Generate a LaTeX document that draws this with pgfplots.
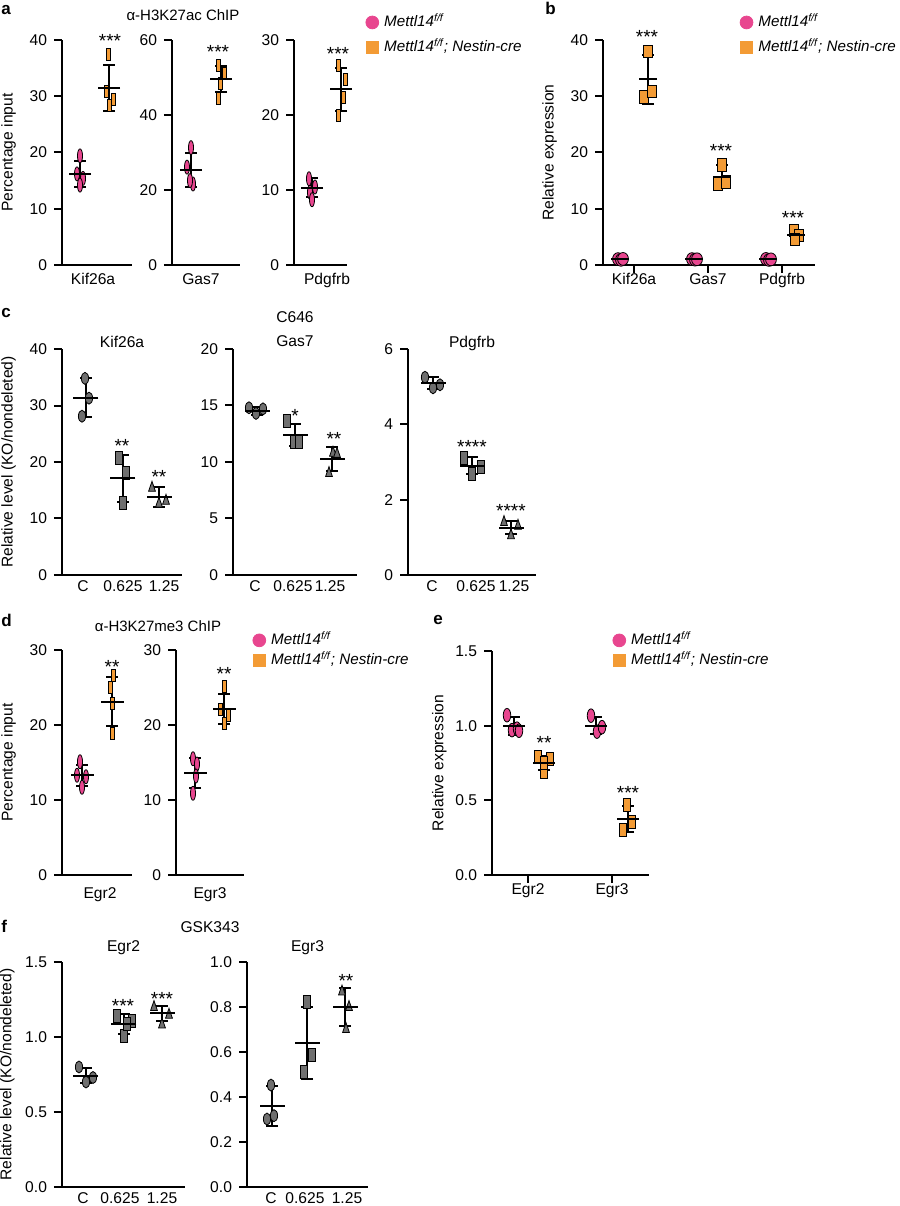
\documentclass[border=0pt]{standalone}
\usepackage{fontspec}
\setmainfont{Liberation Sans}
\usepackage{pgfplots}
\pgfplotsset{compat=1.18}

\definecolor{pk}{HTML}{E8468F}
\definecolor{or}{HTML}{F39B35}
\definecolor{gy}{HTML}{6F6F6F}

\newcommand\fsz{\fontsize{7.8pt}{9pt}\selectfont}
\newcommand\tsz{\fontsize{7.5pt}{9pt}\selectfont}
\newcommand\ssz{\fontsize{9.5pt}{10pt}\selectfont}
\newcommand\lsz{\fontsize{8.5pt}{10pt}\selectfont\bfseries}
\newcommand\lgf{\fontsize{7.6pt}{9pt}\selectfont\itshape}

\tikzset{star/.style={font=\ssz, inner sep=0pt, yshift=-2pt}}

\pgfplotsset{
  legend image code/.code={\draw[#1] plot coordinates {(0pt,0pt)};},
  pan/.style={
    scale only axis, anchor=south west, clip=false,
    axis x line*=bottom, axis y line*=left,
    axis line style={line width=1pt, -},
    tick style={line width=1pt, black},
    major tick length=4pt, tick align=outside,
    xmin=0, ymin=0,
    /pgf/number format/assume math mode=true,
    tick label style={font=\fsz},
    xticklabel style={inner sep=0pt},
    label style={font=\fsz},
    title style={font=\fsz, anchor=base, inner sep=0pt},
  },
  notick/.style={xtick style={draw=none}},
  dec/.style={yticklabel style={/pgf/number format/fixed, /pgf/number format/fixed zerofill, /pgf/number format/precision=1}},
  leg/.style={legend style={at={#1}, anchor=north west, draw=none, fill=none,
    inner xsep=0pt, inner ysep=0pt, font=\lgf, cells={anchor=west},
    nodes={inner sep=0pt, text height=6pt, text depth=1.5pt},
    column sep=2.75pt, row sep=5pt}},
  % a, d: narrow dashes
  dotA/.style={forget plot, only marks, mark=*, mark size=3.5pt, mark options={xscale=0.36, draw=none, fill=#1}},
  sqA/.style={forget plot, only marks, mark=square*, mark size=3pt, mark options={xscale=0.33, draw=none, fill=#1}},
  % b
  dotB/.style={forget plot, only marks, mark=*, mark size=3.2pt, mark options={xscale=0.85, draw=none, fill=#1}},
  sqB/.style={forget plot, only marks, mark=square*, mark size=3.1pt, mark options={xscale=0.75, draw=none, fill=#1}},
  % c, f
  dotC/.style={forget plot, only marks, mark=*, mark size=3pt, mark options={xscale=0.6, draw=none, fill=gy}},
  sqC/.style={forget plot, only marks, mark=square*, mark size=3.25pt, mark options={xscale=0.55, draw=none, fill=gy}},
  triC/.style={forget plot, only marks, mark=triangle*, mark size=3.3pt, mark options={xscale=0.6, draw=none, fill=gy}},
  % e
  dotE/.style={forget plot, only marks, mark=*, mark size=3.4pt, mark options={xscale=0.55, draw=none, fill=#1}},
  sqE/.style={forget plot, only marks, mark=square*, mark size=3.2pt, mark options={xscale=0.6, draw=none, fill=#1}},
  % mean +- SD
  mbar/.style={forget plot, only marks, mark=-, mark size=#1, color=black,
    mark options={line width=1pt},
    error bars/y dir=both, error bars/y explicit, error bars/error mark=|,
    error bars/error mark options={mark size=3pt, line width=1pt, black},
    error bars/error bar style={line width=1pt, black}},
}

\begin{document}
\begin{tikzpicture}
\useasboundingbox (0,0) rectangle (450pt,603pt);

% ---------------- a ----------------
\begin{axis}[pan, at={(31pt,470.5pt)}, width=35pt, height=112.5pt,
  xmax=70, ymax=40, ytick={0,10,20,30,40},
  xtick={31}, xticklabels={Kif26a}, notick,
  ylabel={Percentage input}, ylabel shift=0pt]
\addplot[dotA=pk] coordinates {(18,19.4) (15,16.2) (21,15.4) (18,14.2)};
\addplot[sqA=or] coordinates {(46,37.5) (44,30.9) (51,29.5) (47,28.3)};
\addplot[mbar=5.5pt] coordinates {(18,16.2) +- (0,2.3) (47,31.5) +- (0,4.1)};
\node[star] at (axis cs:48,40.5) {***};
\end{axis}

\begin{axis}[pan, at={(86pt,470.5pt)}, width=34pt, height=112.5pt,
  xmax=68, ymax=60, ytick={0,20,40,60},
  xtick={29}, xticklabels={Gas7}, notick]
\addplot[dotA=pk] coordinates {(19,31.3) (15,26.1) (21,21.6) (18,22.5)};
\addplot[sqA=or] coordinates {(46,53.3) (52,51.2) (48,48.3) (46,44.5)};
\addplot[mbar=5.5pt] coordinates {(19,25.3) +- (0,4.5) (49,49.6) +- (0,3.5)};
\node[star] at (axis cs:46,57.9) {***};
\end{axis}

\begin{axis}[pan, at={(147pt,470.5pt)}, width=26.5pt, height=112.5pt,
  xmax=53, ymax=30, ytick={0,10,20,30},
  xtick={33}, xticklabels={Pdgfrb}, notick, leg={(1.349,1.113)}]
\addlegendimage{only marks, mark=*, mark size=3.2pt, color=pk}
\addlegendentry{Mettl14\textsuperscript{f/f}}
\addlegendimage{only marks, mark=square*, mark size=3pt, color=or}
\addlegendentry{Mettl14\textsuperscript{f/f}; Nestin-cre}
\addplot[dotA=pk] coordinates {(15,11.5) (21,10.4) (16,9.7) (18,8.7)};
\addplot[sqA=or] coordinates {(44,26.6) (51,24.8) (49,22.4) (44,20.0)};
\addplot[mbar=5.5pt] coordinates {(18,10.3) +- (0,1.25) (47,23.4) +- (0,2.85)};
\node[star] at (axis cs:44,28.7) {***};
\end{axis}

% ---------------- b ----------------
\begin{axis}[pan, at={(301.5pt,470.5pt)}, width=106pt, height=112.5pt,
  xmax=212, ymax=40, ytick={0,10,20,30,40},
  xtick={31,105,179}, xticklabels={Kif26a,Gas7,Pdgfrb},
  ylabel={Relative expression}, ylabel shift=0pt, leg={(0.645,1.113)}]
\addlegendimage{only marks, mark=*, mark size=3.2pt, color=pk}
\addlegendentry{Mettl14\textsuperscript{f/f}}
\addlegendimage{only marks, mark=square*, mark size=3pt, color=or}
\addlegendentry{Mettl14\textsuperscript{f/f}; Nestin-cre}
\addplot[dotB=pk] coordinates {(15,1.05) (18,0.92) (20,1.08) (89,1.05) (92,0.95) (94,1.02) (163,1.08) (166,0.9) (168,1.0)};
\addplot[sqB=or] coordinates {(45,38.0) (41,29.9) (49,30.9) (119,17.8) (115,14.4) (123,14.8) (191,6.2) (196,5.3) (192,4.5)};
\addplot[mbar=4.5pt] coordinates {(17,1.0) +- (0,0.08) (91,1.0) +- (0,0.08) (165,1.0) +- (0,0.08)
  (45,33.0) +- (0,4.4) (119,15.7) +- (0,2.0) (193,5.3) +- (0,0.9)};
\node[star] at (axis cs:44,41.2) {***};
\node[star] at (axis cs:118,21.0) {***};
\node[star] at (axis cs:190,9.0) {***};
\end{axis}

% ---------------- c ----------------
\begin{axis}[pan, at={(31pt,315.5pt)}, width=60pt, height=113pt,
  xmax=120, ymax=40, ytick={0,10,20,30,40},
  xtick={21,61,102}, xticklabels={C,0.625,1.25}, notick,
  xticklabel style={yshift=1.5pt},
  title={Kif26a}, title style={yshift=-5pt},
  ylabel={Relative level (KO/nondeleted)}, ylabel shift=0pt]
\addplot[dotC] coordinates {(23,34.8) (27,31.3) (20,28.1)};
\addplot[sqC] coordinates {(57,20.8) (64,18.0) (61,12.7)};
\addplot[triC] coordinates {(90,15.4) (97,12.6) (104,13.1)};
\addplot[mbar=6.25pt] coordinates {(24,31.4) +- (0,3.5) (61,17.1) +- (0,4.2) (97,13.8) +- (0,1.8)};
\node[star] at (axis cs:60,23.5) {**};
\node[star] at (axis cs:97,18.05) {**};
\end{axis}

\begin{axis}[pan, at={(116.5pt,315.5pt)}, width=62pt, height=113pt,
  xmax=124, ymax=20, ytick={0,5,10,15,20},
  xtick={22,60,97}, xticklabels={C,0.625,1.25}, notick,
  xticklabel style={yshift=1.5pt},
  title={Gas7}, title style={yshift=-5pt}]
\addplot[dotC] coordinates {(16,14.8) (23,14.3) (30,14.7)};
\addplot[sqC] coordinates {(54,13.6) (61,11.8) (66,11.8)};
\addplot[triC] coordinates {(96,9.0) (100,10.8) (104,10.7)};
\addplot[mbar=6.25pt] coordinates {(24,14.5) +- (0,0.35) (62,12.4) +- (0,1.0) (99,10.25) +- (0,1.05)};
\node[star] at (axis cs:62,14.4) {*};
\node[star] at (axis cs:101,12.4) {**};
\end{axis}

\begin{axis}[pan, at={(204pt,315.5pt)}, width=64pt, height=113pt,
  xmax=128, ymax=6, ytick={0,2,4,6},
  xtick={24,68,106}, xticklabels={C,0.625,1.25}, notick,
  xticklabel style={yshift=1.5pt},
  title={Pdgfrb}, title style={yshift=-5pt}]
\addplot[dotC] coordinates {(17,5.25) (25,4.97) (32,5.05)};
\addplot[sqC] coordinates {(56,3.1) (64,2.69) (73,2.88)};
\addplot[triC] coordinates {(96,1.40) (110,1.30) (103,1.05)};
\addplot[mbar=6.25pt] coordinates {(25,5.1) +- (0,0.15) (64,2.9) +- (0,0.22) (103,1.26) +- (0,0.18)};
\node[star] at (axis cs:64,3.5) {****};
\node[star] at (axis cs:103,1.8) {****};
\end{axis}

% ---------------- d ----------------
\begin{axis}[pan, at={(31pt,165.5pt)}, width=35pt, height=112.5pt,
  xmax=70, ymax=30, ytick={0,10,20,30},
  xtick={38}, xticklabels={Egr2}, notick, xticklabel style={yshift=-2pt},
  ylabel={Percentage input}, ylabel shift=0pt]
\addplot[dotA=pk] coordinates {(18,15.1) (15,13.3) (24,13.1) (20,11.7)};
\addplot[sqA=or] coordinates {(51,26.6) (48,25.0) (50,22.9) (50,18.9)};
\addplot[mbar=5.75pt] coordinates {(20,13.3) +- (0,1.4) (50,23.1) +- (0,3.3)};
\node[star] at (axis cs:50,28.3) {**};
\end{axis}

\begin{axis}[pan, at={(88pt,165.5pt)}, width=34pt, height=112.5pt,
  xmax=68, ymax=30, ytick={0,10,20,30},
  xtick={34}, xticklabels={Egr3}, notick, xticklabel style={yshift=-2pt},
  leg={(1.125,1.078)}, legend style={row sep=2.5pt}]
\addlegendimage{only marks, mark=*, mark size=3.2pt, color=pk}
\addlegendentry{Mettl14\textsuperscript{f/f}}
\addlegendimage{only marks, mark=square*, mark size=3pt, color=or}
\addlegendentry{Mettl14\textsuperscript{f/f}; Nestin-cre}
\addplot[dotA=pk] coordinates {(17,15.5) (21,14.8) (20,13.2) (17,10.9)};
\addplot[sqA=or] coordinates {(48,25.2) (44,22.1) (52,21.3) (48,20.2)};
\addplot[mbar=5.75pt] coordinates {(19,13.6) +- (0,2.05) (48,22.1) +- (0,2.0)};
\node[star] at (axis cs:48,27.3) {**};
\end{axis}

% ---------------- e ----------------
\begin{axis}[pan, dec, at={(246pt,165.5pt)}, width=78.5pt, height=112pt,
  xmax=157, ymax=1.5, ytick={0,0.5,1,1.5},
  xtick={36,120}, xticklabels={Egr2,Egr3},
  ylabel={Relative expression}, ylabel shift=-2.5pt,
  leg={(0.7675,1.0826)}, legend style={row sep=2.5pt}]
\addlegendimage{only marks, mark=*, mark size=3.2pt, color=pk}
\addlegendentry{Mettl14\textsuperscript{f/f}}
\addlegendimage{only marks, mark=square*, mark size=3pt, color=or}
\addlegendentry{Mettl14\textsuperscript{f/f}; Nestin-cre}
\addplot[dotE=pk] coordinates {(15,1.07) (20,0.97) (25,0.98) (27,0.966) (99,1.067) (105,0.96) (110,0.99)};
\addplot[sqE=or] coordinates {(46,0.79) (58,0.78) (52,0.69) (52,0.75) (135,0.469) (140,0.357) (131,0.30)};
\addplot[mbar=5.5pt] coordinates {(22,1.0) +- (0,0.06) (52,0.75) +- (0,0.05) (104,1.0) +- (0,0.055) (136,0.375) +- (0,0.085)};
\node[star] at (axis cs:52,0.91) {**};
\node[star] at (axis cs:136,0.576) {***};
\end{axis}

% ---------------- f ----------------
\begin{axis}[pan, dec, at={(31pt,9.5pt)}, width=61.5pt, height=112.5pt,
  xmax=123, ymax=1.5, ytick={0,0.5,1,1.5},
  xtick={21,58,100}, xticklabels={C,0.625,1.25}, notick,
  xticklabel style={yshift=1.2pt},
  title={Egr2}, title style={yshift=-1pt},
  ylabel={Relative level (KO/nondeleted)}, ylabel shift=-1.5pt]
\addplot[dotC] coordinates {(17,0.80) (24,0.70) (31,0.73)};
\addplot[sqC] coordinates {(55,1.142) (62,1.009) (70,1.109) (65,1.09)};
\addplot[triC] coordinates {(92,1.198) (107,1.147) (100,1.082)};
\addplot[mbar=6.25pt] coordinates {(24,0.742) +- (0,0.05) (62,1.085) +- (0,0.067) (100,1.157) +- (0,0.05)};
\node[star] at (axis cs:61,1.233) {***};
\node[star] at (axis cs:100,1.28) {***};
\end{axis}

\begin{axis}[pan, dec, at={(123.5pt,9.5pt)}, width=60.5pt, height=112.5pt,
  xmax=121, ymax=1, ytick={0,0.2,0.4,0.6,0.8,1},
  xtick={24,58,100}, xticklabels={C,0.625,1.25}, notick,
  xticklabel style={yshift=1.2pt},
  title={Egr3}, title style={yshift=-1pt}]
\addplot[dotC] coordinates {(24,0.453) (20,0.302) (27,0.317)};
\addplot[sqC] coordinates {(60,0.821) (65,0.587) (57,0.512)};
\addplot[triC] coordinates {(95,0.868) (102,0.799) (99,0.701)};
\addplot[mbar=6.25pt] coordinates {(25,0.36) +- (0,0.087) (60,0.64) +- (0,0.16) (98,0.80) +- (0,0.085)};
\node[star] at (axis cs:99,0.933) {**};
\end{axis}

% panel letters and group titles
\node[anchor=base west, font=\lsz, inner sep=0pt] at (0.5pt,595.5pt) {a};
\node[anchor=base west, font=\lsz, inner sep=0pt] at (272.5pt,595.5pt) {b};
\node[anchor=base west, font=\lsz, inner sep=0pt] at (0.5pt,444pt) {c};
\node[anchor=base west, font=\lsz, inner sep=0pt] at (0.5pt,289.5pt) {d};
\node[anchor=base west, font=\lsz, inner sep=0pt] at (216.5pt,290.5pt) {e};
\node[anchor=base west, font=\lsz, inner sep=0pt] at (0.5pt,136.5pt) {f};
\node[anchor=base, font=\tsz, inner sep=0pt] at (91.5pt,592.5pt) {α-H3K27ac ChIP};
\node[anchor=base, font=\fsz, inner sep=0pt] at (147.5pt,441.5pt) {C646};
\node[anchor=base, font=\tsz, inner sep=0pt] at (79pt,287pt) {α-H3K27me3 ChIP};
\node[anchor=base, font=\fsz, inner sep=0pt] at (105pt,136.5pt) {GSK343};
\end{tikzpicture}
\end{document}
